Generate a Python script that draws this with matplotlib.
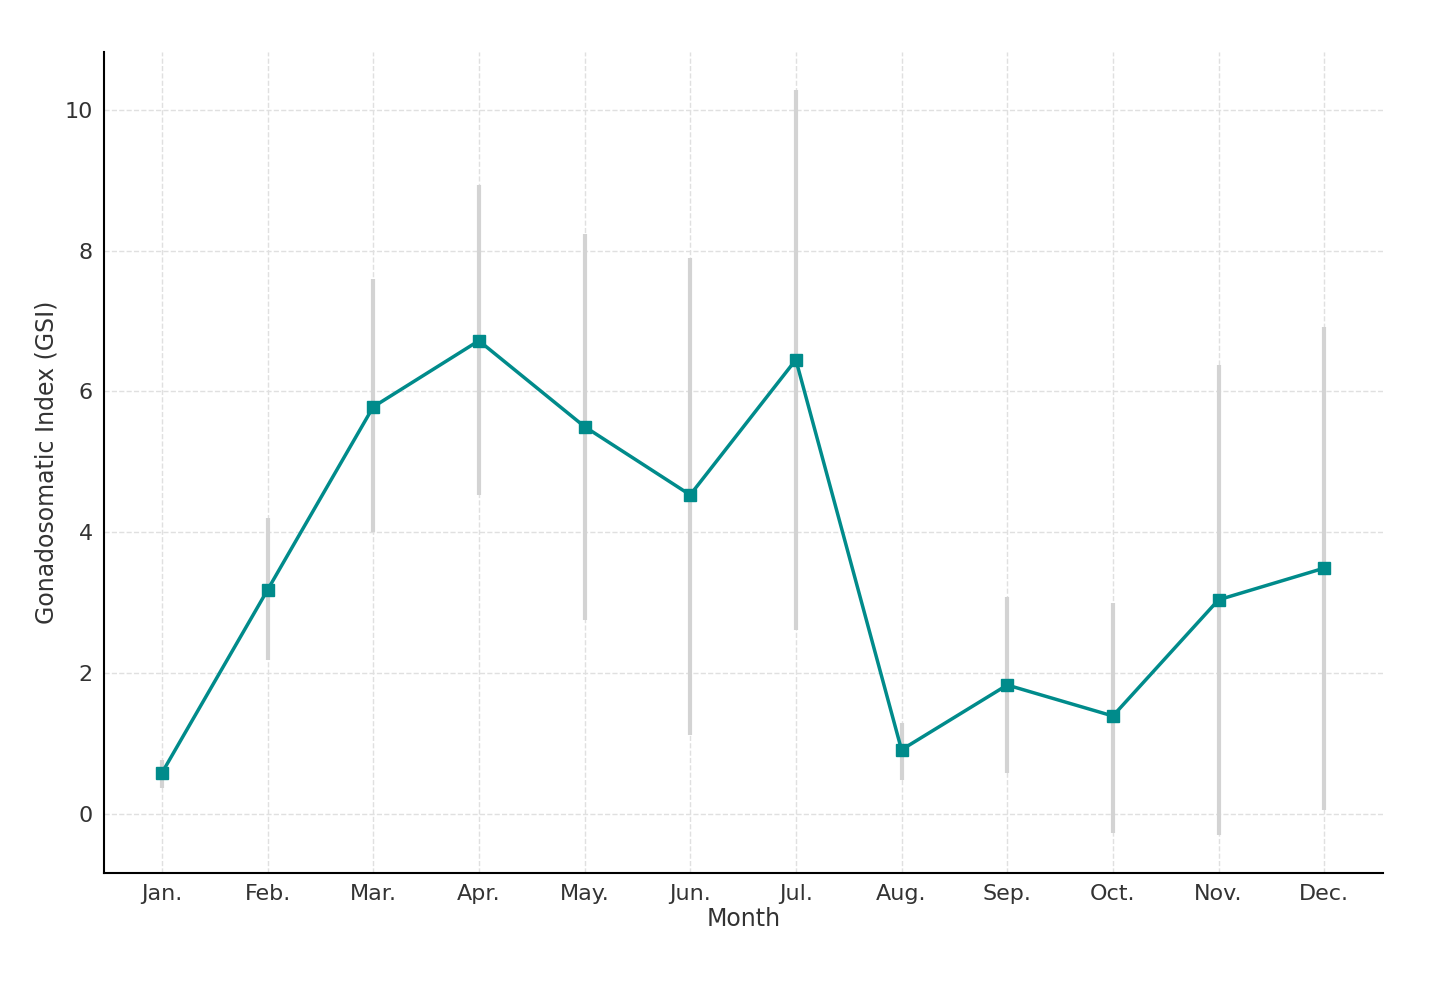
import matplotlib
matplotlib.use("Agg")
import matplotlib.pyplot as plt

months = ["Jan.", "Feb.", "Mar.", "Apr.", "May.", "Jun.", "Jul.",
          "Aug.", "Sep.", "Oct.", "Nov.", "Dec."]
gsi = [0.58, 3.18, 5.78, 6.72, 5.50, 4.53, 6.45, 0.91, 1.83, 1.39, 3.04, 3.49]
upper = [0.77, 4.20, 7.60, 8.93, 8.24, 7.90, 10.28, 1.29, 3.08, 3.00, 6.38, 6.92]
lower = [0.37, 2.19, 4.00, 4.53, 2.76, 1.12, 2.61, 0.48, 0.58, -0.27, -0.30, 0.06]

err_lo = [g - l for g, l in zip(gsi, lower)]
err_hi = [u - g for g, u in zip(gsi, upper)]
x = list(range(len(months)))

fig = plt.figure(figsize=(14.41, 9.82), dpi=100)
ax = fig.add_axes([0.072, 0.111, 0.888, 0.836])

ax.errorbar(x, gsi, yerr=[err_lo, err_hi], fmt="none", ecolor="#d3d3d3",
            elinewidth=3, capsize=0, zorder=1)
ax.plot(x, gsi, "-s", color="#008b8b", linewidth=2.5, markersize=8, zorder=2)

ax.set_xticks(x)
ax.set_xticklabels(months)
ax.set_yticks([0, 2, 4, 6, 8, 10])
ax.set_xlim(-0.55, 11.56)
ax.set_ylim(-0.84, 10.82)
ax.grid(True, linestyle="--", color="#e0e0e0", linewidth=1)
ax.set_axisbelow(True)
for s in ("top", "right"):
    ax.spines[s].set_visible(False)
ax.spines["left"].set_linewidth(1.5)
ax.spines["bottom"].set_linewidth(1.5)
ax.tick_params(labelsize=16, length=0, colors="#333333", pad=8)
ax.set_xlabel("Month", fontsize=17, color="#333333", labelpad=2)
ax.set_ylabel("Gonadosomatic Index (GSI)", fontsize=17, color="#333333")

fig.savefig("out.png", dpi=100)
